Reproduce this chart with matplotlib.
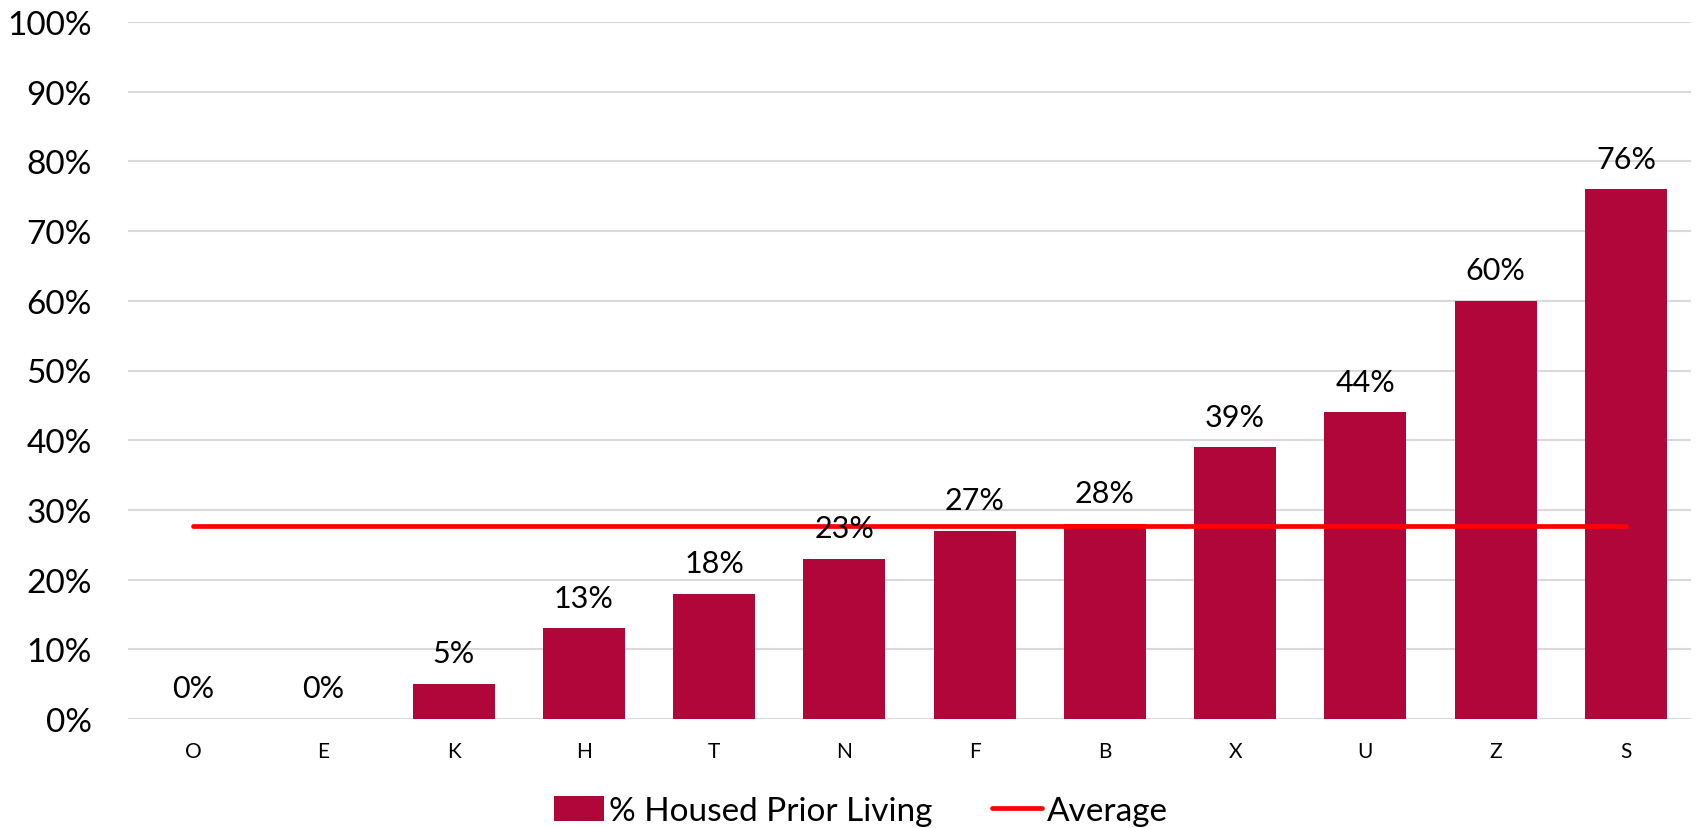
import numpy as np
import matplotlib.pyplot as plt
from matplotlib.ticker import PercentFormatter

# 数据
categories = ['O', 'E', 'K', 'H', 'T', 'N', 'F', 'B', 'X', 'U', 'Z', 'S']
housed_pct = [0, 0, 5, 13, 18, 23, 27, 28, 39, 44, 60, 76]
y_ticks = list(range(0, 101, 10))

bar_color = '#b0063a'
avg_color = '#ff0000'
grid_color = '#d9d9d9'

plt.rcParams['font.family'] = ['Lato', 'DejaVu Sans']


def main():
    avg = np.mean(housed_pct)
    x = np.arange(len(categories))

    fig = plt.figure(figsize=(16.96, 8.29), dpi=100)
    ax = fig.add_axes([128 / 1696, 1 - 720 / 829, (1691 - 128) / 1696, (720 - 23) / 829])

    bars = ax.bar(x, housed_pct, width=0.63, color=bar_color, zorder=2,
                  label='% Housed Prior Living')
    line, = ax.plot([x[0], x[-1]], [avg, avg], color=avg_color, lw=3.4,
                    solid_capstyle='round', zorder=3, label='Average')

    # 数据标签
    for b, v in zip(bars, housed_pct):
        ax.annotate('{}%'.format(v), (b.get_x() + b.get_width() / 2, v),
                    xytext=(0, 12), textcoords='offset points',
                    ha='center', va='bottom', fontsize=22, zorder=4)

    ax.set_xlim(-0.5, len(categories) - 0.5)
    ax.set_ylim(0, 100)
    ax.set_yticks(y_ticks)
    ax.yaxis.set_major_formatter(PercentFormatter(decimals=0))
    ax.set_xticks(x)
    ax.set_xticklabels(categories)
    ax.tick_params(axis='y', length=0, pad=26, labelsize=24)
    ax.tick_params(axis='x', length=0, pad=16, labelsize=15)
    ax.grid(axis='y', color=grid_color, lw=1.5, zorder=0)
    for s in ax.spines.values():
        s.set_visible(False)

    fig.legend([bars, line], ['% Housed Prior Living', 'Average'],
               loc='center', bbox_to_anchor=(861 / 1696, 1 - 812 / 829),
               ncol=2, frameon=False, fontsize=24, handlelength=1.5,
               handleheight=0.75, handletextpad=0.15, columnspacing=1.8)

    plt.savefig('out.png', dpi=100)


if __name__ == '__main__':
    main()
